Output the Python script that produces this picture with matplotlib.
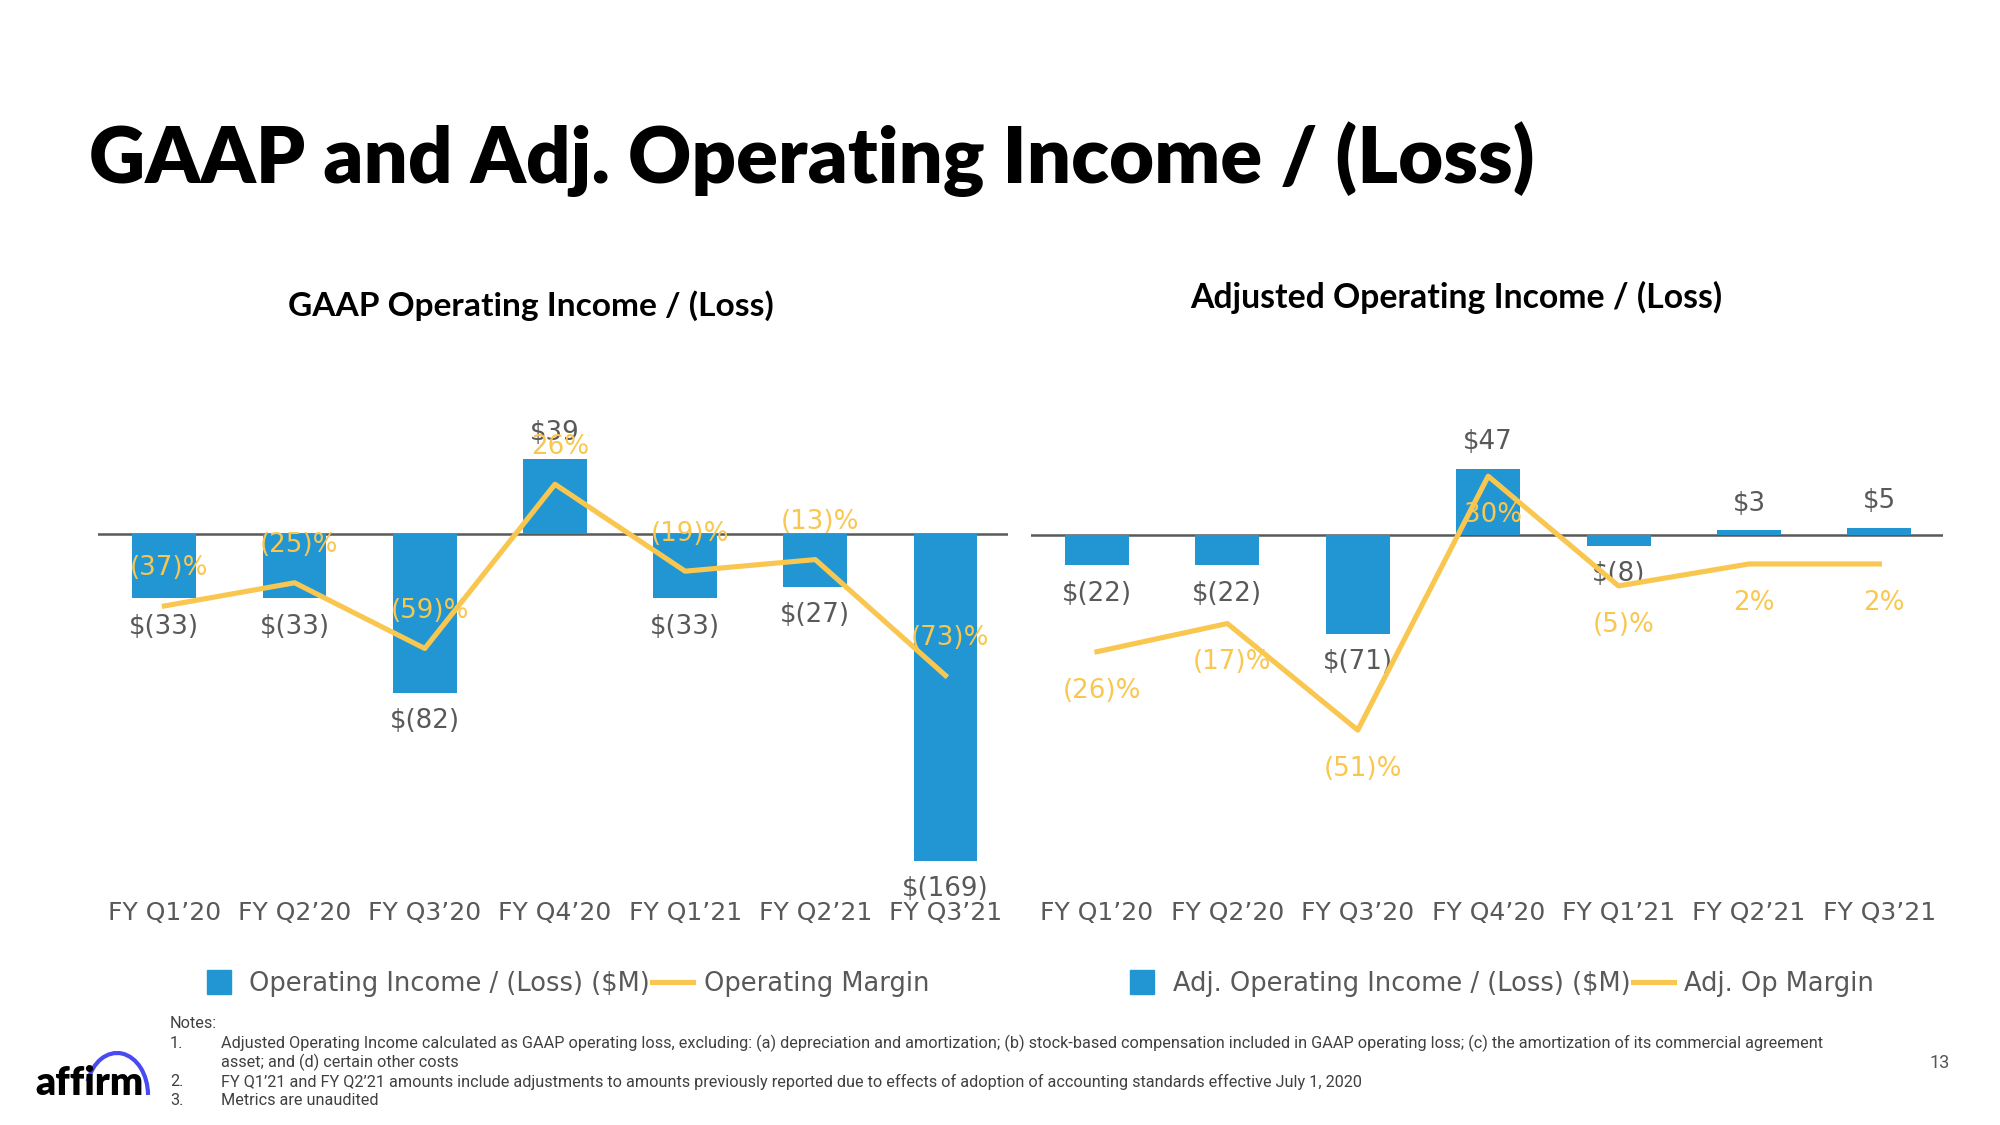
import matplotlib
matplotlib.use('Agg')
import matplotlib.pyplot as plt
from matplotlib.lines import Line2D
from matplotlib.patches import Arc

# Data
quarters = ['FY Q1’20', 'FY Q2’20', 'FY Q3’20', 'FY Q4’20', 'FY Q1’21', 'FY Q2’21', 'FY Q3’21']
gaap_income = [-33, -33, -82, 39, -33, -27, -169]
gaap_margin = [-37, -25, -59, 26, -19, -13, -73]
adj_income = [-22, -22, -71, 47, -8, 3, 5]
adj_margin = [-26, -17, -51, 30, -5, 2, 2]

notes = [
    ('1.', 'Adjusted Operating Income calculated as GAAP operating loss, excluding: (a) depreciation and amortization; '
           '(b) stock-based compensation included in GAAP operating loss; (c) the amortization of its commercial agreement'),
    ('', 'asset; and (d) certain other costs'),
    ('2.', 'FY Q1’21 and FY Q2’21 amounts include adjustments to amounts previously reported due to effects of '
           'adoption of accounting standards effective July 1, 2020'),
    ('3.', 'Metrics are unaudited'),
]

BLUE = '#2196d3'
YELLOW = '#f9c74f'
GREY = '#595959'
W, H = 2000, 1125


def money(v):
    return f'$({abs(v)})' if v < 0 else f'${v}'


def pct(v):
    return f'({abs(v)})%' if v < 0 else f'{v}%'


def rect(x0, x1, y0, y1):
    # pixel box -> figure fraction
    return [x0 / W, 1 - y1 / H, (x1 - x0) / W, (y1 - y0) / H]


fig = plt.figure(figsize=(20, 11.25), dpi=100)
fig.patch.set_facecolor('white')

# page layer in pixel coordinates for the slide text
page = fig.add_axes([0, 0, 1, 1])
page.set_xlim(0, W)
page.set_ylim(H, 0)
page.axis('off')


def draw_panel(box, xlim, ylim, ylim_m, income, margin, pct_dy):
    ax = fig.add_axes(rect(*box))
    x = list(range(len(quarters)))
    ax.axhline(0, color=GREY, lw=1.8, zorder=1)
    ax.bar(x, income, width=0.49, color=BLUE, zorder=2)
    ax.set_xlim(*xlim)
    ax.set_ylim(*ylim)
    ax.set_xticks(x, quarters)
    ax.set_yticks([])
    ax.tick_params(length=0, pad=8, labelsize=18, labelcolor=GREY)
    for s in ax.spines.values():
        s.set_visible(False)
    ax.patch.set_visible(False)
    for i, v in enumerate(income):
        ax.annotate(money(v), (i, v), xytext=(0, 19 if v > 0 else -20.5), textcoords='offset points',
                    ha='center', va='center', fontsize=18.8, color=GREY)

    axm = ax.twinx()
    axm.plot(x, margin, color=YELLOW, lw=3.7, zorder=3)
    axm.set_ylim(*ylim_m)
    axm.axis('off')
    for i, v in enumerate(margin):
        axm.annotate(pct(v), (i, v), xytext=(3.5, pct_dy), textcoords='offset points',
                     ha='center', va='center', fontsize=18.8, color=YELLOW)
    return ax


ax1 = draw_panel((98, 1008, 400, 890), (-0.51, 6.48), (-184, 69.6), (-184, 69.6),
                 gaap_income, gaap_margin, 27)
ax2 = draw_panel((1030.6, 1942.6, 400, 890), (-0.509, 6.485), (-253.9, 96.1), (-102.0, 54.3),
                 adj_income, adj_margin, -28)

# legends
for ax, labels, x0 in [(ax1, ['Operating Income / (Loss) ($M)', 'Operating Margin'], 198),
                       (ax2, ['Adj. Operating Income / (Loss) ($M)', 'Adj. Op Margin'], 1121.6)]:
    handles = [Line2D([], [], marker='s', markersize=17.3, color=BLUE, linestyle='none'),
               Line2D([], [], color=YELLOW, lw=3.7)]
    ax.legend(handles, labels, loc='center left', bbox_to_anchor=(x0 / W, 1 - 984 / H),
              bbox_transform=fig.transFigure, ncol=2, frameon=False, fontsize=18.5, labelcolor=GREY,
              handlelength=1.6, handletextpad=0.4, columnspacing=0.08, borderpad=0, borderaxespad=0)

# titles
page.text(89, 159, 'GAAP and Adj. Operating Income / (Loss)', ha='left', va='center',
          fontsize=56, fontweight='heavy', family='Lato', color='black')
page.text(530.6, 306, 'GAAP Operating Income / (Loss)', ha='center', va='center',
          fontsize=24.1, fontweight='bold', family='Lato', color='black')
page.text(1456.6, 297, 'Adjusted Operating Income / (Loss)', ha='center', va='center',
          fontsize=24.3, fontweight='bold', family='Lato', color='black')

# notes
page.text(170, 1023, 'Notes:', ha='left', va='center', fontsize=11.7, family='Roboto', color='#404040')
for k, (num, line) in enumerate(notes):
    y = 1043.4 + k * 19.1
    page.text(170, y, num, ha='left', va='center', fontsize=11.7, family='Roboto', color='#404040')
    page.text(220.7, y, line, ha='left', va='center', fontsize=11.7, family='Roboto', color='#404040')

page.text(1940, 1062.5, '13', ha='center', va='center', fontsize=13, family='Roboto', color='#555555')

# affirm logo
page.text(35, 1095, 'affirm', ha='left', va='baseline', fontsize=28.3, fontweight='heavy',
          family='Lato', color='black')
page.add_patch(Arc((117, 1095), 62, 84, theta1=205, theta2=360, color='#4a4af4', lw=3))

fig.savefig('out.png', dpi=100)
